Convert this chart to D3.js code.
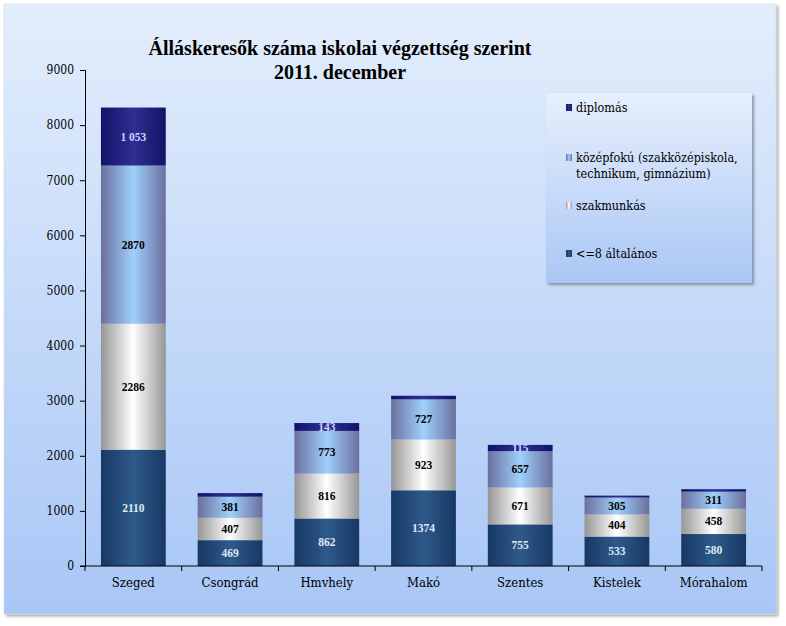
<!DOCTYPE html>
<html>
<head>
<meta charset="utf-8">
<script src="https://cdnjs.cloudflare.com/ajax/libs/d3/7.8.5/d3.min.js"></script>
<style>
  body { margin: 0; background: #fff; }
  svg text { font-family: "Liberation Serif", serif; }
  .axis path, .axis line { stroke: #000; stroke-width: 1px; }
  .axis text { font-size: 12px; fill: #000; }
  .lbl { font-size: 11.5px; font-weight: bold; text-anchor: middle; }
  .reg { font-family: "DejaVu Serif Condensed", "DejaVu Serif" !important; font-stretch: condensed; }
</style>
</head>
<body>
<script>

// categories and series (bottom to top)
var towns = ["Szeged", "Csongrád", "Hmvhely", "Makó", "Szentes", "Kistelek", "Mórahalom"];
var alt8    = [2110, 469, 862, 1374, 755, 533, 580];
var szakm   = [2286, 407, 816, 923, 671, 404, 458];
var kozep   = [2870, 381, 773, 727, 657, 305, 311];
var diploma = [1053, 66, 143, 65, 115, 35, 45];
var yTicks  = [0, 1000, 2000, 3000, 4000, 5000, 6000, 7000, 8000, 9000];

var series = [
  {key: "alt8", name: "<=8 általános", values: alt8, edge: "#183863", mid: "#2e5a8a", text: "#dfe8f7", minLbl: 0},
  {key: "szakm", name: "szakmunkás", values: szakm, edge: "#969696", mid: "#ffffff", text: "#000", minLbl: 0},
  {key: "kozep", name: "középfokú (szakközépiskola,|technikum, gimnázium)", values: kozep, edge: "#6c6f9e", mid: "#9fd0fb", text: "#000", minLbl: 0},
  {key: "dipl", name: "diplomás", values: diploma, edge: "#131368", mid: "#2f2f92", text: "#c9d2ff", minLbl: 100}
];

var W = 786, H = 626;
var margin = {top: 70, left: 85, right: 24, bottom: 60};

var svg = d3.select("body").append("svg")
    .attr("width", W).attr("height", H);

var defs = svg.append("defs");

// background gradient of the chart area
var bg = defs.append("linearGradient").attr("id", "bg")
    .attr("x1", 0).attr("y1", 0).attr("x2", 0).attr("y2", 1);
bg.append("stop").attr("offset", "0%").attr("stop-color", "#e3eefc");
bg.append("stop").attr("offset", "100%").attr("stop-color", "#a8c6f6");

var lg = defs.append("linearGradient").attr("id", "lgbg")
    .attr("x1", 0).attr("y1", 0).attr("x2", 0).attr("y2", 1);
lg.append("stop").attr("offset", "0%").attr("stop-color", "#e6effc");
lg.append("stop").attr("offset", "100%").attr("stop-color", "#aac7f5");

var sh = defs.append("filter").attr("id", "shadow")
    .attr("x", "-5%").attr("y", "-5%").attr("width", "110%").attr("height", "110%");
sh.append("feDropShadow").attr("dx", 2).attr("dy", 2).attr("stdDeviation", 1.5)
    .attr("flood-color", "#000").attr("flood-opacity", 0.35);

series.forEach(function(s) {
  var g = defs.append("linearGradient").attr("id", "g_" + s.key)
      .attr("x1", 0).attr("y1", 0).attr("x2", 1).attr("y2", 0);
  g.append("stop").attr("offset", "0%").attr("stop-color", s.edge);
  g.append("stop").attr("offset", "50%").attr("stop-color", s.mid);
  g.append("stop").attr("offset", "100%").attr("stop-color", s.edge);
});

// chart frame
svg.append("rect")
    .attr("x", 4).attr("y", 4).attr("width", 772).attr("height", 610)
    .attr("fill", "url(#bg)").attr("stroke", "#c9d6e8").attr("stroke-width", 0.5)
    .attr("filter", "url(#shadow)");

// title
var title = svg.append("text")
    .attr("x", 340).attr("y", 55)
    .attr("text-anchor", "middle")
    .style("font-size", "20px").style("font-weight", "bold");
title.append("tspan").attr("x", 340).text("Álláskeresők száma iskolai végzettség szerint");
title.append("tspan").attr("x", 340).attr("dy", 24).text("2011. december");

var x = d3.scaleBand()
    .domain(towns)
    .range([margin.left, 762])
    .paddingInner(0.33).paddingOuter(0.165);

var y = d3.scaleLinear()
    .domain([0, 9000])
    .range([566, 70]);

// stack
var rows = towns.map(function(t, i) {
  var r = {town: t};
  series.forEach(function(s) { r[s.key] = s.values[i]; });
  return r;
});
var stacked = d3.stack().keys(series.map(function(s) { return s.key; }))(rows);

var gBars = svg.append("g");
stacked.forEach(function(layer, li) {
  var s = series[li];
  var grp = gBars.append("g");
  grp.selectAll("rect").data(layer).enter().append("rect")
      .attr("x", function(d) { return x(d.data.town); })
      .attr("width", x.bandwidth())
      .attr("y", function(d) { return y(d[1]); })
      .attr("height", function(d) { return y(d[0]) - y(d[1]); })
      .attr("fill", "url(#g_" + s.key + ")");
  grp.selectAll("text").data(layer.filter(function(d) { return d.data[s.key] >= s.minLbl; }))
    .enter().append("text")
      .attr("class", "lbl")
      .attr("x", function(d) { return x(d.data.town) + x.bandwidth() / 2; })
      .attr("y", function(d) { return (y(d[0]) + y(d[1])) / 2 + 4; })
      .attr("fill", s.text)
      .text(function(d) {
        var v = d.data[s.key];
        return v >= 1000 && s.key === "dipl" ? d3.format(",")(v).replace(",", " ") : v;
      });
});

// axes
var yAxis = svg.append("g").attr("class", "axis")
    .attr("transform", "translate(" + margin.left + ",0)")
    .call(d3.axisLeft(y).tickValues(yTicks).tickSize(5).tickPadding(6).tickFormat(d3.format("d")));
yAxis.attr("font-family", null);
yAxis.selectAll("text").attr("class", "reg");

var bounds = towns.map(function(t) { return x(t) - x.step() * x.paddingInner() / 2; });
bounds.push(762);

var xAxis = svg.append("g").attr("class", "axis");
xAxis.append("line")
    .attr("x1", margin.left - 5).attr("x2", 762)
    .attr("y1", 566).attr("y2", 566);
xAxis.selectAll(".tk").data(bounds).enter().append("line")
    .attr("x1", function(d) { return d; }).attr("x2", function(d) { return d; })
    .attr("y1", 566).attr("y2", 571);
xAxis.selectAll(".cat").data(towns).enter().append("text")
    .attr("class", "reg")
    .attr("x", function(d) { return x(d) + x.bandwidth() / 2; })
    .attr("y", 587)
    .attr("text-anchor", "middle")
    .style("font-size", "13px")
    .text(function(d) { return d; });

// legend
var legend = svg.append("g");
legend.append("rect")
    .attr("x", 546).attr("y", 93).attr("width", 206).attr("height", 190)
    .attr("fill", "url(#lgbg)").attr("filter", "url(#shadow)");

var legendY = [112, 162, 210, 258];
var legendItems = series.slice().reverse();
legendItems.forEach(function(s, i) {
  var ly = legendY[i];
  legend.append("rect")
      .attr("x", 566).attr("y", ly - 8).attr("width", 6).attr("height", 7)
      .attr("fill", "url(#g_" + s.key + ")");
  var t = legend.append("text").attr("class", "reg").attr("x", 576).attr("y", ly)
      .style("font-size", "12.5px");
  s.name.split("|").forEach(function(part, j) {
    t.append("tspan").attr("x", 576).attr("dy", j ? 16 : 0).text(part);
  });
});

</script>
</body>
</html>
